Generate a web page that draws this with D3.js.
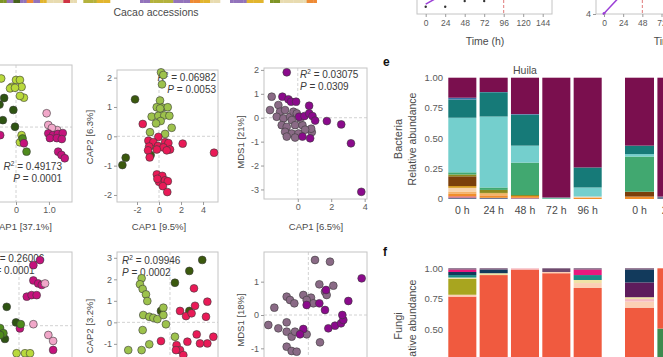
<!DOCTYPE html>
<html><head><meta charset="utf-8">
<script src="https://cdn.jsdelivr.net/npm/d3@7"></script>
<style>body{margin:0;background:#fff}svg{display:block;font-family:"Liberation Sans",Arial,Helvetica,sans-serif}</style>
</head><body><svg id="c" width="663" height="357"></svg>
<script>
// ---------------- DATA ----------------
// accession strip (run-length: colour key, number of accessions)
const accessionRuns = [["olive",2],["purple",2],["dark",2],["purple",2],["orange",2],["purple",2],["yellow",2],["beige",5],["red",2],["beige",2],
  [null,2],["yolive",4],["yellow",4],[null,9],
  ["purple",3],["yolive",7],["purple",5],["orange",3],["yellow",3],["beige",3],[null,3],
  ["purple",5],["yellow",5],[null,2],["olive",3],["beige",8],["orange",3]];
const timeTicks = [0,24,48,72,96,120,144];
const timeTicks2 = [0,24,48,72];
const dots1 = [[0,3.74],[24,3.74],[48,3.93],[72,3.93]];
const purpleLine1 = [[0,3.83],[24,4.19]];
const purpleLine2 = [[0,4.02],[24,4.7]];

// scatter panels: [x, y, group]
const a1Points = [[0,1.57,"L"],[0.12,1.57,"L"],[-0.13,1.34,"L"],[0.17,1.34,"L"],[-0.18,1.29,"L"],[-0.03,1.31,"L"],[0.24,0.98,"L"],[0.12,1.04,"L"],[0.17,-0.27,"L"],[0.12,-0.51,"L"],[-0.45,1.62,"L"],
  [-0.4,0.23,"D"],[-0.03,0.01,"D"],[-0.08,0.57,"D"],[-0.5,0.75,"D"],[-0.36,0.97,"D"],
  [0.32,-0.82,"M"],[0.2,-0.38,"M"],
  [0.93,0.46,"P"],[0.98,0.07,"P"],[1.25,-0.1,"P"],[1.09,-0.03,"P"],
  [-0.48,-0.27,"K"],[0.98,-0.21,"K"],[1.12,-0.27,"K"],[1.27,-0.23,"K"],[1.42,-0.2,"K"],[1.03,-0.37,"K"],[1.24,-0.37,"K"],[1.39,-0.4,"K"],[1.28,-0.82,"K"],[1.38,-0.93,"K"],[1.48,-1.04,"K"],[0.24,-0.54,"K"]];
const a2Points = [[0.18,2.18,"O"],[0.39,2.09,"O"],[0.27,1.77,"O"],[0.09,1.22,"O"],[-0.21,0.99,"O"],[0.3,0.98,"O"],[0.79,0.99,"O"],[-0.67,0.67,"O"],[-0.06,0.7,"O"],[0.48,0.71,"O"],[0.94,0.7,"O"],[0.15,0.52,"O"],[-0.27,0.44,"O"],[1.15,0.29,"O"],[-0.82,0.14,"O"],[0.55,0.08,"O"],[-0.75,-0.32,"O"],[0.1,0.95,"O"],
  [-2.18,1.26,"V"],[-3.03,-0.73,"V"],[-3.33,-0.98,"V"],[-0.76,-0.64,"V"],
  [-1.48,0.42,"C"],[-0.06,-0.02,"C"],[-0.97,-0.15,"C"],[-0.52,-0.2,"C"],[0.55,-0.2,"C"],[0.85,-0.23,"C"],[-0.9,-0.35,"C"],[-0.1,-0.33,"C"],[0.4,-0.38,"C"],[1.0,-0.45,"C"],[-1.0,-0.48,"C"],[-0.2,-0.45,"C"],[0.7,-0.48,"C"],[2.15,-0.25,"C"],[5.0,-0.56,"C"],[-0.85,-0.72,"C"],
  [-0.2,-1.3,"C"],[0.3,-1.35,"C"],[0.0,-1.55,"C"],[0.55,-1.5,"C"],[0.8,-1.53,"C"],[0.35,-1.7,"C"],[0.75,-1.9,"C"],[-0.15,-1.45,"C"]];
const a3Points = [[-1.56,0.88,"G"],[-1.66,0.32,"G"],[-1.16,0.53,"G"],[-1.06,0.25,"G"],[-0.76,0.32,"G"],[-1.26,0.04,"G"],[-0.86,-0.03,"G"],[-0.46,0.04,"G"],[-0.26,0.25,"G"],[-0.36,-0.1,"G"],[-0.06,0.18,"G"],[-0.96,-0.31,"G"],[-0.66,-0.38,"G"],[-0.16,-0.31,"G"],[0.28,-0.31,"G"],[-0.76,-0.59,"G"],[-0.36,-0.66,"G"],[0.04,-0.66,"G"],[-0.66,-0.79,"G"],[-0.16,-0.83,"G"],[0.84,-0.6,"G"],[0.8,-0.46,"G"],[0.44,-0.5,"G"],[0.14,-0.03,"G"],
  [-0.66,1.9,"U"],[-0.92,0.88,"U"],[-0.56,0.77,"U"],[-0.4,0.67,"U"],[-0.1,0.67,"U"],[0.68,0.5,"U"],[0.08,0.04,"U"],[0.4,0.07,"U"],[0.68,0.18,"U"],[0.88,0.07,"U"],[1.04,-0.12,"U"],[1.74,-0.14,"U"],[2.6,-0.28,"U"],[0.28,-0.79,"U"],[0.74,-0.86,"U"],[3.18,-1.07,"U"],[3.8,-3.1,"U"]];
const b1Points = [[0.7,2.19,"K"],[0.48,2.02,"K"],[0.48,1.51,"K"],[0.64,1.41,"K"],[0.76,1.36,"K"],[0.26,0.97,"K"],[0.42,1.02,"K"],[0.59,1.02,"K"],[0.03,-0.09,"K"],[1.14,-0.81,"K"],
  [0.87,1.41,"P"],[0.48,0.05,"P"],[0.98,-0.31,"P"],[1.14,-0.51,"P"],
  [-0.41,0.63,"D"],[-0.1,0.11,"D"],[-0.47,-0.44,"D"],
  [-0.63,-0.08,"M"],[-0.52,-0.25,"M"],[-0.63,-0.31,"M"],[0.06,0.05,"M"],
  [-0.08,-0.92,"L"],[0.2,-0.92,"L"],[0.37,-0.92,"L"]];
const b2Points = [[2.15,2.9,"V"],[1.29,2.39,"V"],[0.33,1.84,"V"],[-0.6,0.53,"V"],[1.29,0.53,"V"],
  [-1.89,2.05,"O"],[-2,1.77,"O"],[-1.82,1.55,"O"],[-1.6,1.3,"O"],[-1.51,0.99,"O"],[-1.78,0.34,"O"],[-1.38,0.26,"O"],[-1.11,0.21,"O"],[-0.84,0.15,"O"],[-0.44,0.68,"O"],[-0.44,0.34,"O"],[-0.27,-0.09,"O"],[-1.82,-0.36,"O"],[0.33,-0.67,"O"],[-1.38,-1.02,"O"],[-1.89,-1.29,"O"],[-2.78,-1.29,"O"],
  [1.6,1.58,"C"],[2.49,0.96,"C"],[1.67,0.77,"C"],[0.67,0.53,"C"],[1.07,0.29,"C"],[1.44,0.42,"C"],[2.4,0.26,"C"],[1.78,-0.56,"C"],[1.16,-0.9,"C"],[2.49,-0.98,"C"],[2.89,-0.67,"C"],[-0.6,-0.87,"C"],[0.44,-1.06,"C"],[2.0,-0.98,"C"],[0.67,-1.29,"C"],[0.89,-1.52,"C"],[0.4,-1.29,"C"]];
const b3Points = [[0.4,1.65,"G"],[1.3,1.6,"G"],[0.66,0.92,"G"],[1.5,0.88,"G"],[1.0,0.7,"G"],[1.1,0.6,"G"],[-2.04,0.22,"G"],[-1.3,0.55,"G"],[-1.1,0.45,"G"],[-0.84,0.35,"G"],[-0.3,0.6,"G"],[0.16,0.52,"G"],[0.3,0.35,"G"],[-0.1,0.45,"G"],[-2.4,-0.3,"G"],[-1.8,-0.4,"G"],[-1.3,-0.22,"G"],[-1.3,-0.5,"G"],[-1.0,-0.65,"G"],[-0.8,-0.5,"G"],[-0.3,-0.5,"G"],[-0.1,-0.58,"G"],[-1.3,-0.95,"G"],[-1.0,-1.08,"G"],[-0.7,-1.1,"G"],[0.7,-0.82,"G"],
  [3.2,1.1,"U"],[1.06,0.75,"U"],[-0.1,0.3,"U"],[0.66,0.35,"U"],[1.0,0.15,"U"],[2.4,0.42,"U"],[1.2,-0.4,"U"],[1.6,-0.32,"U"],[1.96,-0.25,"U"],[2.1,-0.15,"U"],[2.04,0,"U"],[-0.3,-0.42,"U"],[-0.5,-0.58,"U"]];

// stacked bars
const samples = ["0 h","24 h","48 h","72 h","96 h"];
const samples2 = ["0 h","24 h"];
const bacteriaTaxa = ["slate","red","orange","tan","peach","gold","brown","olive","green","ltteal","dkteal","blue","maroon"];
const bacteriaHuila = [
  [.012,.01,.02,.02,.03,.015,.08,.015,.018,.45,.15,.015,.165],
  [.01,0,.02,.015,0,.005,0,.025,.02,.585,.2,.002,.118],
  [.005,.005,.015,0,0,0,0,.008,.267,.14,.255,.005,.3],
  [0,0,0,0,0,0,0,0,.006,.006,0,0,.988],
  [0,0,.012,0,.008,0,0,0,0,.075,.165,0,.74]];
const bacteriaSite2 = [
  [0,0,.02,0,0,0,.04,0,.29,.02,.07,0,.56],
  [.02,0,0,0,0,0,0,0,0,0,0,0,.98]];
const fungiTaxa = ["green","red","peach","ltpink","olive","tan","teal","dkpurple","navy","magenta","mauve"];
const fungiHuila = [
  [0,.77,.015,0,.13,.01,.02,0,.025,.02,.01],
  [0,.945,0,0,0,.015,0,0,.03,0,.01],
  [0,.99,0,.01,0,0,0,0,0,0,0],
  [0,.96,.01,0,0,0,0,0,0,0,.03],
  [0,.84,.04,0,0,.025,.04,0,0,.045,.01]];
const fungiSite2 = [
  [0,.68,.05,.02,0,.015,0,.12,.105,0,.01],
  [.51,.49,0,0,0,0,0,0,0,0,0]];
const abundTicks = [0,0.25,0.5,0.75,1];

// ---------------- STYLE ----------------
const accCol = {olive:"#7f9426",purple:"#9273bb",dark:"#46611c",orange:"#ee8a34",yellow:"#e2b52e",beige:"#e8dbb0",red:"#cf3444",yolive:"#b4b23c"};
const ptCol = {L:"#b9d93c",D:"#2e5412",M:"#4f8b1c",P:"#f1a7c9",K:"#c5127c",O:"#9dc24c",V:"#3b590d",C:"#e91a57",G:"#8a6a86",U:"#8b0a8c"};
const bacCol = {slate:"#6d7896",red:"#e04f68",orange:"#f08d2b",tan:"#f4b36a",peach:"#f7d3ae",gold:"#d69a1f",brown:"#7b3f0b",olive:"#8b8a1f",green:"#41a870",ltteal:"#74cfcd",dkteal:"#167a78",blue:"#3b6fa6",maroon:"#7a0f4e"};
const funCol = {green:"#3d8b4f",red:"#f05a3f",peach:"#fbd0b5",ltpink:"#f5b8c0",olive:"#a8a51f",tan:"#efe3a6",teal:"#1b8b86",dkpurple:"#5e1c5c",navy:"#123a5c",magenta:"#e8197e",mauve:"#6e4a6e"};
const TXT = "#4a4a4a", TICK = "#5a5a5a", BOX = "#c4c4c4";

const svg = d3.select("#c");
svg.append("rect").attr("width",663).attr("height",357).attr("fill","#fff");

function styleAxis(a, fs){
  a.select(".domain").remove();
  a.selectAll(".tick line").attr("stroke","#9a9a9a");
  a.selectAll(".tick text").attr("fill",TICK).attr("font-size",fs).attr("font-family","Liberation Sans, Arial, sans-serif");
}
function vText(x, cy, txt, fs, weight){
  svg.append("text").attr("transform",`translate(${x},${cy}) rotate(-90)`).attr("text-anchor","middle")
    .attr("dominant-baseline","central").attr("font-size",fs).attr("fill",TXT).attr("font-weight",weight||"normal").text(txt);
}

// ---------------- TOP STRIP ----------------
const accX = d3.scaleLinear().domain([0,96]).range([0,320]);
let acc = 0; const accCells = [];
accessionRuns.forEach(([k,n])=>{ for(let i=0;i<n;i++){ accCells.push({i:acc,k}); acc++; } });
svg.append("g").selectAll("rect").data(accCells.filter(d=>d.k)).join("rect")
  .attr("x",d=>accX(d.i)).attr("width",accX(1)-accX(0)+0.3).attr("y",0).attr("height",3).attr("fill",d=>accCol[d.k]);
svg.append("text").attr("x",156).attr("y",16).attr("text-anchor","middle").attr("font-size",10.5).attr("fill",TXT).text("Cacao accessions");

// ---------------- TOP-RIGHT LINE CHARTS ----------------
(function(){
  const x1 = d3.scaleLinear().domain([0,144]).range([425.7,542.7]);
  const y1 = d3.scaleLinear().domain([3.5,5]).range([14,-31]);
  svg.append("rect").attr("x",417).attr("y",-20).attr("width",135).attr("height",34).attr("fill","none").attr("stroke",BOX);
  svg.append("line").attr("x1",x1(96)).attr("x2",x1(96)).attr("y1",0).attr("y2",14).attr("stroke","#e07b7b").attr("stroke-dasharray","3,2");
  svg.append("path").datum(purpleLine1).attr("d",d3.line().x(d=>x1(d[0])).y(d=>y1(d[1]))).attr("stroke","#9b3fd6").attr("stroke-width",1.5).attr("fill","none");
  svg.append("g").selectAll("circle").data(dots1).join("circle").attr("cx",d=>x1(d[0])).attr("cy",d=>y1(d[1])).attr("r",1.2).attr("fill","#333");
  const ax = svg.append("g").attr("transform","translate(0,14)").call(d3.axisBottom(x1).tickValues(timeTicks).tickSize(3).tickPadding(3));
  styleAxis(ax, 8.5);
  svg.append("text").attr("x",485).attr("y",45).attr("text-anchor","middle").attr("font-size",10.5).attr("fill",TXT).text("Time (h)");

  const x2 = d3.scaleLinear().domain([0,72]).range([604,661.5]);
  const y2 = d3.scaleLinear().domain([4,5]).range([14,-16]);
  svg.append("rect").attr("x",596).attr("y",-20).attr("width",120).attr("height",34).attr("fill","none").attr("stroke",BOX);
  svg.append("line").attr("x1",x2(48)).attr("x2",x2(48)).attr("y1",0).attr("y2",14).attr("stroke","#e07b7b").attr("stroke-dasharray","3,2");
  svg.append("path").datum(purpleLine2).attr("d",d3.line().x(d=>x2(d[0])).y(d=>y2(d[1]))).attr("stroke","#9b3fd6").attr("stroke-width",1.5).attr("fill","none");
  svg.append("circle").attr("cx",x2(purpleLine2[0][0])).attr("cy",y2(purpleLine2[0][1])).attr("r",1.5).attr("fill","#9b3fd6");
  const ax2 = svg.append("g").attr("transform","translate(0,14)").call(d3.axisBottom(x2).tickValues(timeTicks2).tickSize(3).tickPadding(3));
  styleAxis(ax2, 8.5);
  const ay2 = svg.append("g").attr("transform","translate(596,0)").call(d3.axisLeft(y2).tickValues([4]).tickSize(3).tickPadding(2).tickFormat(d3.format("d")));
  styleAxis(ay2, 9);
  svg.append("text").attr("x",673).attr("y",45).attr("text-anchor","middle").attr("font-size",10.5).attr("fill",TXT).text("Time (h)");
})();

// ---------------- SCATTER PANELS ----------------
function drawScatter(p){
  const g = svg.append("g");
  const x = d3.scaleLinear().domain(p.xDomain).range([p.x0,p.x1]);
  const y = d3.scaleLinear().domain(p.yDomain).range([p.y1,p.y0]);
  g.append("line").attr("x1",x(0)).attr("x2",x(0)).attr("y1",p.y0).attr("y2",p.y1).attr("stroke","#d2d2d2").attr("stroke-dasharray","3,2");
  g.append("line").attr("x1",p.x0).attr("x2",p.x1).attr("y1",y(0)).attr("y2",y(0)).attr("stroke","#d2d2d2").attr("stroke-dasharray","3,2");
  g.append("rect").attr("x",p.x0).attr("y",p.y0).attr("width",p.x1-p.x0).attr("height",p.y1-p.y0).attr("fill","none").attr("stroke",BOX);
  if (p.xTicks){
    const ax = g.append("g").attr("transform",`translate(0,${p.y1})`).call(d3.axisBottom(x).tickValues(p.xTicks).tickSize(3).tickPadding(2).tickFormat(p.xFormat||(d=>String(d))));
    styleAxis(ax, 9);
  }
  if (p.yTicks){
    const ay = g.append("g").attr("transform",`translate(${p.x0},0)`).call(d3.axisLeft(y).tickValues(p.yTicks).tickSize(3).tickPadding(2).tickFormat(d=>String(d)));
    styleAxis(ay, 9);
  }
  const a = p.ann;
  if (a) [["R",a.r,a.y],["P",a.p,a.y+12]].forEach(([sym,val,yy])=>{
    const t = g.append("text").attr("x",a.x).attr("y",yy).attr("text-anchor",a.anchor).attr("font-size",10).attr("fill","#3a3a3a");
    t.append("tspan").attr("font-style","italic").text(sym);
    if (sym==="R"){ t.append("tspan").attr("dy",-4).attr("font-size",6.5).text("2"); t.append("tspan").attr("dy",4).text(" = "+val); }
    else t.append("tspan").text(" = "+val);
  });
  g.append("g").selectAll("circle").data(p.points).join("circle")
    .attr("cx",d=>x(d[0])).attr("cy",d=>y(d[1])).attr("r",3.9)
    .attr("fill",d=>ptCol[d[2]]).attr("stroke","#3a3a3a").attr("stroke-width",0.6);
  if (p.xTitle) g.append("text").attr("x",p.xTitle[1]).attr("y",p.xTitle[2]).attr("text-anchor","middle").attr("font-size",9.5).attr("fill",TXT).text(p.xTitle[0]);
  if (p.yTitle) vText(p.yTitle[1], p.yTitle[2], p.yTitle[0], 9.5);
}

drawScatter({x0:-40,x1:72,y0:65,y1:202,xDomain:[-1.7,1.7],yDomain:[-2.5,2.07],xTicks:[0,1],xFormat:d=>d===0?"0":d.toFixed(1),
  points:a1Points,ann:{x:62,y:170,anchor:"end",r:"0.49173",p:"0.0001"},xTitle:["CAP1 [37.1%]",22,230]});
drawScatter({x0:117,x1:218,y0:70,y1:202,xDomain:[-3.82,5.36],yDomain:[-2.24,2.26],xTicks:[-2,0,2,4],yTicks:[-2,-1,0,1,2],
  points:a2Points,ann:{x:216,y:81,anchor:"end",r:"0.06982",p:"0.0053"},xTitle:["CAP1 [9.5%]",159,230],yTitle:["CAP2 [6.3%]",89,137]});
drawScatter({x0:264,x1:367,y0:68,y1:199,xDomain:[-2.02,4.14],yDomain:[-3.4,2.08],xTicks:[0,2,4],yTicks:[-3,-2,-1,0,1,2],
  points:a3Points,ann:{x:300,y:78,anchor:"start",r:"0.03075",p:"0.0309"},xTitle:["CAP1 [6.5%]",316,230],yTitle:["MDS1 [21%]",240,142]});
drawScatter({x0:-40,x1:72,y0:252,y1:400,xDomain:[-1.97,1.77],yDomain:[-2.48,2.46],
  points:b1Points,ann:{x:-14,y:262,anchor:"start",r:"0.26006",p:"0.0001"}});
drawScatter({x0:117,x1:218,y0:252,y1:400,xDomain:[-3.53,3.2],yDomain:[-3.61,3.27],yTicks:[-1,0,1,2,3],
  points:b2Points,ann:{x:122,y:264,anchor:"start",r:"0.09946",p:"0.0002"},yTitle:["CAP2 [3.2%]",89,326]});
drawScatter({x0:264,x1:367,y0:252,y1:400,xDomain:[-2.66,3.52],yDomain:[-2.55,1.89],yTicks:[-1,0,1],
  points:b3Points,yTitle:["MDS1 [18%]",240,320]});

// ---------------- STACKED BARS ----------------
function drawBars(cfg){
  const y = d3.scaleLinear().domain([0,1]).range([cfg.yBottom,cfg.yTop]);
  cfg.facets.forEach(f=>{
    const x = d3.scaleBand().domain(f.samples).range(f.range).paddingInner(0.105);
    const rows = f.samples.map((s,i)=>{ const o={sample:s}; cfg.keys.forEach((k,j)=>o[k]=f.values[i][j]); return o; });
    const series = d3.stack().keys(cfg.keys)(rows);
    svg.append("g").selectAll("g").data(series).join("g").attr("fill",d=>cfg.colors[d.key])
      .selectAll("rect").data(d=>d).join("rect")
      .attr("x",d=>x(d.data.sample)).attr("width",x.bandwidth())
      .attr("y",d=>y(d[1])).attr("height",d=>Math.max(0,y(d[0])-y(d[1])));
    if (cfg.xLabelY) svg.append("g").selectAll("text").data(f.samples).join("text")
      .attr("x",d=>x(d)+x.bandwidth()/2).attr("y",cfg.xLabelY).attr("text-anchor","middle").attr("font-size",10.5).attr("fill",TXT).text(d=>d);
    if (f.label) svg.append("text").attr("x",(f.range[0]+f.range[1])/2).attr("y",cfg.yTop-4).attr("text-anchor","middle").attr("font-size",10.5).attr("fill",TXT).text(f.label);
  });
  svg.append("g").selectAll("text").data(abundTicks).join("text")
    .attr("x",443).attr("y",d=>y(d)).attr("dy","0.35em").attr("text-anchor","end").attr("font-size",9.5).attr("fill",TICK)
    .text(d=>d===0?"0":d.toFixed(2));
  vText(398, cfg.titleY, cfg.title, 11);
  vText(412, cfg.titleY, "Relative abundance", 10.5);
  svg.append("text").attr("x",383).attr("y",cfg.letterY).attr("font-size",12).attr("font-weight","bold").attr("fill","#111").text(cfg.letter);
}
drawBars({yBottom:199,yTop:77.7,keys:bacteriaTaxa,colors:bacCol,xLabelY:214,title:"Bacteria",titleY:139,letter:"e",letterY:66,
  facets:[{samples,values:bacteriaHuila,range:[448.3,601.7],label:"Huila"},{samples:samples2,values:bacteriaSite2,range:[625,686.4]}]});
drawBars({yBottom:391.3,yTop:268.3,keys:fungiTaxa,colors:funCol,title:"Fungi",titleY:326,letter:"f",letterY:256,
  facets:[{samples,values:fungiHuila,range:[448.3,601.7]},{samples:samples2,values:fungiSite2,range:[625,686.4]}]});
</script></body></html>
